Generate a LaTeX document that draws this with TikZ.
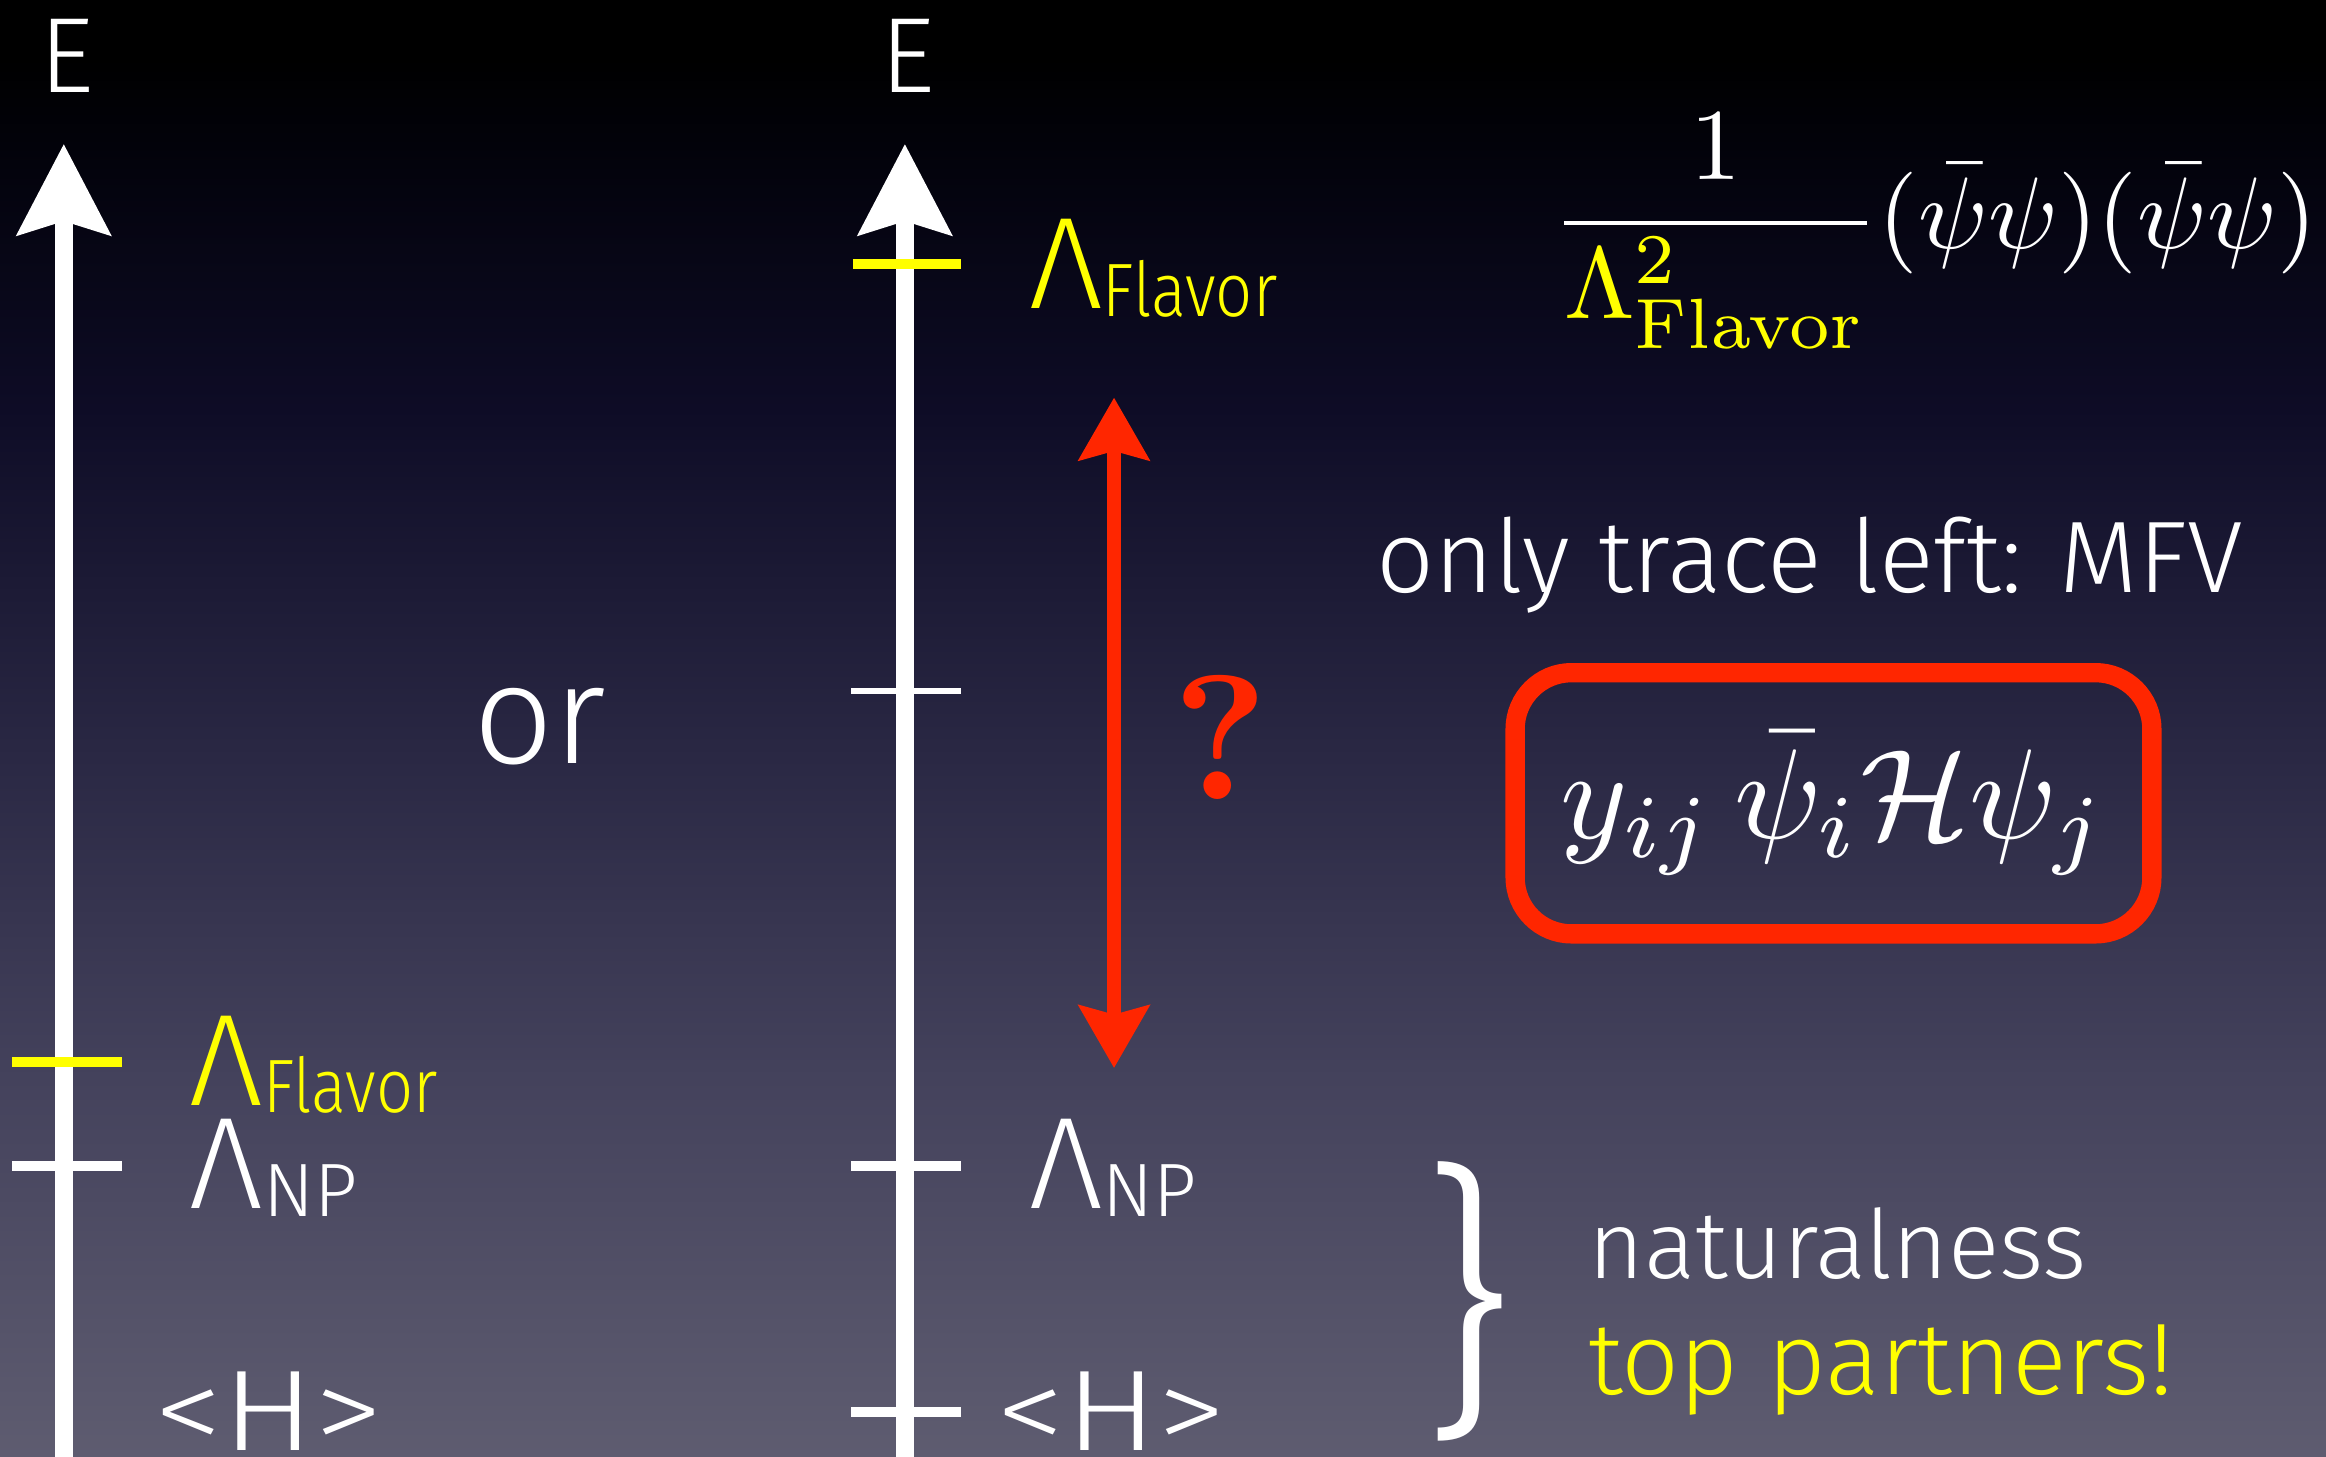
\documentclass[tikz,border=0pt]{standalone}
\usepackage{amsmath,amssymb}
\usepackage[no-math]{fontspec}
\usepackage{graphicx}
\usepackage{xcolor}
\usepackage{tikz}
\usetikzlibrary{arrows.meta}
\newfontfamily\gillfont{Fira Sans Light}
\definecolor{flavcol}{RGB}{255,255,0}
\definecolor{qcol}{RGB}{255,38,0}
\definecolor{bgbot}{RGB}{94,92,112}
\definecolor{bglow}{RGB}{68,66,92}
\definecolor{bgmid}{RGB}{42,40,68}
\definecolor{bghigh}{RGB}{14,12,38}
\definecolor{bgtop}{RGB}{2,2,10}
% only 25bp..75bp of a shading is stretched over the path
\pgfdeclareverticalshading{slidebg}{100bp}{color(0bp)=(bgbot); color(25bp)=(bgbot); color(38bp)=(bglow); color(49bp)=(bgmid); color(61bp)=(bghigh); color(70bp)=(bgtop); color(73bp)=(black); color(100bp)=(black)}
\newcommand{\fsz}[1]{\fontsize{#1}{#1}\selectfont}
\newcommand{\lamlab}[2][1]{{\fsz{25}Λ}\raisebox{-0.15em}{\scalebox{#1}[1]{\fsz{14.5}#2}}}

\begin{document}
\begin{tikzpicture}[x=0.01cm,y=-0.01cm,
  axis/.style={white,line width=3.4pt,-{Stealth[length=6.1mm,width=6.2mm,inset=0.9mm]}},
  gap/.style={qcol,line width=2.6pt,{Stealth[length=4.2mm,width=4.7mm,inset=0.6mm]}-{Stealth[length=4.2mm,width=4.7mm,inset=0.6mm]}},
  tick/.style={white,line width=2pt},
  lab/.style={anchor=base west,inner sep=0pt,text=white,font=\gillfont},
  gill/.style={inner sep=0pt,text=white,font=\gillfont},
  mfvbox/.style={draw=qcol,line width=3.7pt,rounded corners=3.8mm,minimum width=4.29cm,minimum height=1.76cm,text=white}]
  \shade[shading=slidebg] (0,0) rectangle (1568,982);
  \useasboundingbox (0,0) rectangle (1568,982);

  % the two energy axes
  \node[gill,font=\gillfont\fsz{20.5}] (leftE) at (45,38) {E};
  \node[gill,font=\gillfont\fsz{20.5}] (rightE) at (612,38) {E};
  \coordinate (lbot) at (43,990);
  \coordinate (ltop) at (43,97);
  \coordinate (rbot) at (610,990);
  \coordinate (rtop) at (610,97);
  \draw[axis] (lbot) -- (ltop);
  \draw[axis] (rbot) -- (rtop);

  % left: flavor scale low
  \draw[tick,flavcol] (8,716) -- (82,716);
  \draw[tick] (8,786) -- (82,786);
  \node[lab,text=flavcol] (lflav) at (127,745) {\lamlab[0.86]{Flavor}};
  \node[lab] (lnp) at (127,815) {\lamlab{NP}};
  \node[lab,font=\gillfont\fsz{22},xscale=1.2] (lvev) at (103,978) {<H>};

  \node[gill,font=\gillfont\fsz{27}] (or) at (364,490) {or};

  % right: flavor scale high
  \draw[tick,flavcol] (575,178) -- (648,178);
  \foreach \y/\w in {466/1.2pt,786/2pt,952/2pt}
    \draw[tick,line width=\w] (574,\y) -- (648,\y);
  \node[lab,text=flavcol] (rflav) at (693,208) {\lamlab[0.86]{Flavor}};
  \node[lab] (rnp) at (693,815) {\lamlab{NP}};
  \node[lab,font=\gillfont\fsz{22},xscale=1.2] (rvev) at (671,978) {<H>};

  \coordinate (gaptop) at (751,268);
  \coordinate (gapbot) at (751,720);
  \draw[gap] (gaptop) -- (gapbot);
  \node[text=qcol,inner sep=0pt,font=\bfseries,scale=3.4] (qmark) at (823,497) {?};

  % operators
  \node[text=white,inner sep=0pt,scale=1.95] (fourf) at (1304,156)
    {$\dfrac{1}{\textcolor{flavcol}{\Lambda^2_{\mathrm{Flavor}}}}(\bar\psi\psi)(\bar\psi\psi)$};
  \node[gill,font=\gillfont\fsz{19.5}] (mfv) at (1220,381) {only trace left: MFV};
  \node[mfvbox] (yuk) at (1236,541.5) {\scalebox{2.45}{$y_{ij}\,\bar\psi_i\mathcal{H}\psi_j$}};

  \node[gill,font=\gillfont\fsz{56}] (brace) at (989,877) {\}};
  \node[lab,font=\gillfont\fsz{18.3}] (nat) at (1070,862) {naturalness};
  \node[lab,text=flavcol,font=\gillfont\fsz{19.5}] (tops) at (1070,940) {top partners!};
\end{tikzpicture}
\end{document}
